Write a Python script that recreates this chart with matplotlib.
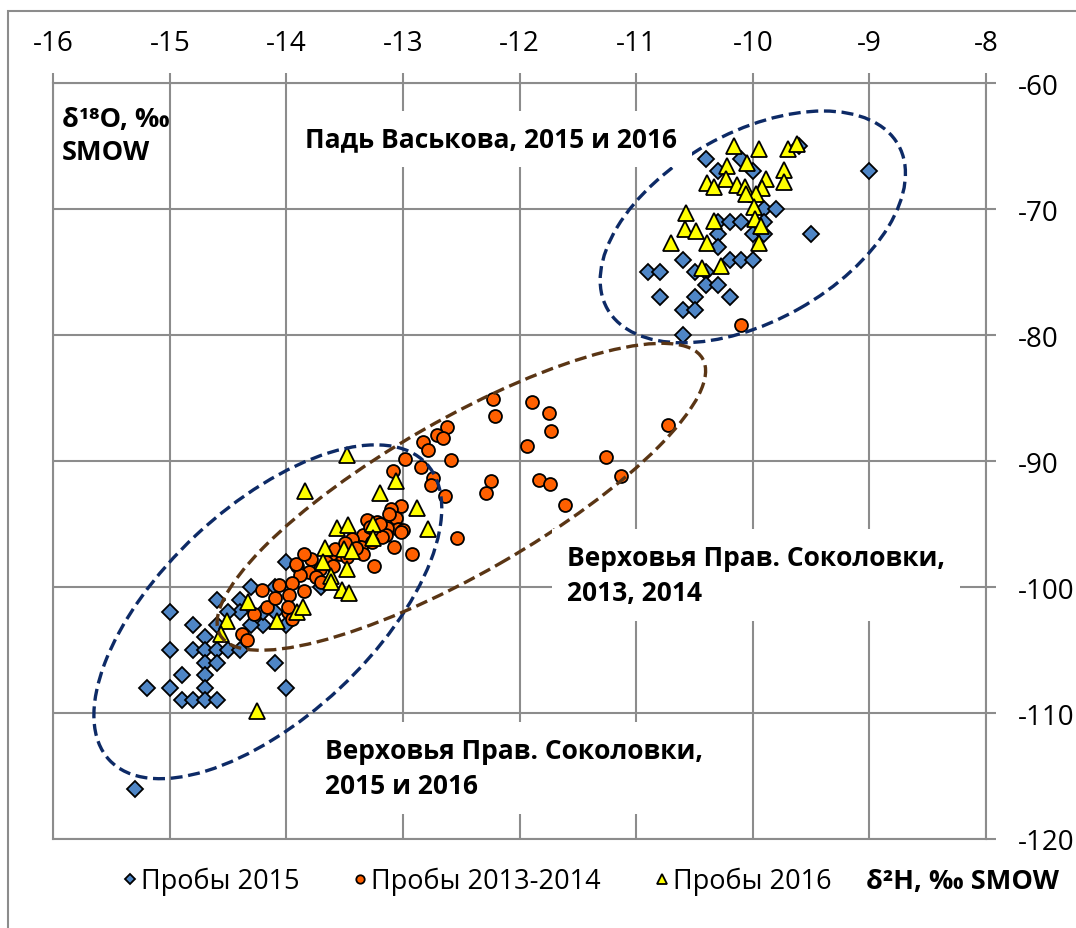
import matplotlib
matplotlib.use("Agg")
from matplotlib import pyplot as plt
from matplotlib.patches import Ellipse, Rectangle
from matplotlib.transforms import ScaledTranslation

plt.rcParams['font.family'] = ['Open Sans', 'DejaVu Sans']
plt.rcParams['axes.unicode_minus'] = False

# Пробы 2015 (diamonds)
x2015 = [-15.0, -14.8, -14.6, -14.4, -14.3, -14.4, -14.6, -14.7, -15.0, -14.8, -14.7, -14.6, -14.5, -14.4,
         -14.7, -14.6, -14.9, -14.7, -15.2, -15.0, -14.7, -14.9, -14.8, -14.7, -14.6, -14.1, -14.0, -15.3,
         -14.0, -14.1, -14.2, -14.0, -14.1, -14.5, -14.2, -14.3, -13.7,
         -10.4, -10.1, -10.3, -10.0, -9.0, -9.6, -9.9, -9.8, -10.3, -10.2, -10.1, -9.9, -10.3, -10.0, -9.9,
         -9.5, -10.3, -10.6, -10.2, -10.1, -10.0, -10.9, -10.8, -10.5, -10.4, -10.4, -10.3, -10.8, -10.5,
         -10.2, -10.6, -10.5, -10.6]
y2015 = [-102, -103, -101, -101, -100, -102, -103, -104, -105, -105, -105, -105, -105, -105,
         -106, -106, -107, -107, -108, -108, -108, -109, -109, -109, -109, -106, -108, -116,
         -98, -100, -103, -103, -102, -102, -102, -103, -100,
         -66, -66, -67, -67, -67, -65, -70, -70, -71, -71, -71, -71, -72, -72, -72,
         -72, -73, -74, -74, -74, -74, -75, -75, -75, -75, -76, -76, -77, -77,
         -77, -78, -78, -80]

# Пробы 2013-2014 (circles)
x1314 = [-12.23, -12.21, -11.89, -11.75, -11.73, -11.94, -10.73, -11.26, -11.13, -12.25, -12.29, -11.83,
         -11.74, -11.61, -12.54, -12.62, -12.71, -12.66, -12.83, -12.79, -12.98, -12.59, -12.85, -13.09,
         -12.74, -12.76, -12.64, -12.92, -10.10,
         -13.02, -13.10, -13.06, -13.31, -13.22, -13.04, -13.00, -13.14, -13.08, -13.25, -13.34, -13.36,
         -13.34, -13.44, -13.54, -13.62, -13.79, -13.71, -13.81, -13.91, -13.88, -13.95, -14.06, -14.21,
         -13.85, -13.98, -14.17, -14.28, -13.99, -13.95, -14.38, -14.34, -13.92, -13.99, -13.15, -13.02,
         -13.20, -13.28, -13.18, -13.12, -13.27, -13.40, -13.48, -13.58, -13.66, -13.75, -13.60, -13.50,
         -13.85, -14.10, -13.70]
y1314 = [-85.1, -86.4, -85.3, -86.2, -87.6, -88.8, -87.1, -89.7, -91.2, -91.6, -92.5, -91.5,
         -91.8, -93.5, -96.1, -87.3, -87.9, -88.2, -88.5, -89.1, -89.8, -89.9, -90.5, -90.8,
         -91.3, -91.9, -92.8, -97.4, -79.2,
         -93.6, -93.8, -94.5, -94.7, -94.8, -95.4, -95.5, -95.3, -96.8, -98.3, -95.9, -96.8,
         -97.4, -96.2, -97.4, -97.4, -97.8, -98.6, -98.8, -98.3, -99.0, -99.7, -99.8, -100.2,
         -100.3, -100.6, -101.6, -102.1, -102.0, -102.5, -103.7, -104.2, -98.2, -101.6, -95.9, -95.6,
         -95.0, -95.2, -96.0, -94.2, -96.4, -96.9, -97.6, -97.0, -98.0, -99.2, -98.3, -96.5,
         -97.4, -100.9, -99.6]

# Пробы 2016 (triangles)
x2016 = [-10.16, -9.95, -9.70, -9.62, -10.22, -10.05, -9.73, -9.73, -10.23, -10.39, -10.33, -10.14,
         -10.07, -9.89, -9.92, -9.97, -10.06, -9.99, -10.57, -10.58, -10.49, -10.33, -9.98, -9.93,
         -10.70, -10.39, -9.95, -10.44, -10.27,
         -13.48, -13.84, -13.20, -13.06, -12.88, -12.79, -13.57, -13.47, -13.26, -13.26, -13.51, -13.67,
         -13.44, -13.69, -13.62, -13.48, -13.52, -13.46, -14.33, -14.51, -13.91, -13.86, -14.08, -14.56,
         -14.25, -13.62]
y2016 = [-65.0, -65.2, -65.2, -64.8, -66.6, -66.3, -66.9, -67.8, -67.6, -67.9, -68.2, -68.1,
         -68.2, -67.6, -68.3, -68.8, -68.8, -69.8, -70.3, -71.6, -71.7, -70.9, -70.8, -71.3,
         -72.7, -72.7, -72.7, -74.7, -74.5,
         -89.5, -92.4, -92.5, -91.6, -93.7, -95.4, -95.3, -95.1, -95.0, -96.1, -97.0, -96.9,
         -97.1, -98.0, -99.1, -98.6, -100.2, -100.5, -101.2, -102.7, -102.0, -101.6, -102.7, -103.7,
         -109.8, -99.6]

xticks = [-16, -15, -14, -13, -12, -11, -10, -9, -8]
yticks = [-120, -110, -100, -90, -80, -70, -60]

W, H = 1076, 929
grid_c = "#8c8c8c"

fig = plt.figure(figsize=(W / 100, H / 100), dpi=100)
ax = fig.add_axes([53.3 / W, 1 - 840 / H, (986 - 53.3) / W, (840 - 84.3) / H])
ax.set_xlim(-16, -8)
ax.set_ylim(-120, -60)
ax.set_xticks(xticks)
ax.set_yticks(yticks)
ax.grid(True, color=grid_c, lw=1.5, zorder=0)
ax.set_axisbelow(True)
for s in ax.spines.values():
    s.set_color(grid_c)
    s.set_linewidth(1.5)
ax.tick_params(axis="x", top=True, bottom=False, labeltop=True, labelbottom=False,
               length=7, width=1.5, color=grid_c, pad=12, labelsize=20)
ax.tick_params(axis="y", right=True, left=False, labelright=True, labelleft=False,
               length=7, width=1.5, color=grid_c, pad=16, labelsize=20)

# series
ax.plot(x2015, y2015, ls="none", marker="D", ms=8.2, mfc="#4f86c6", mec="black", mew=1.3,
        zorder=3, label="Пробы 2015")
ax.plot(x1314, y1314, ls="none", marker="o", ms=9.3, mfc="#ff6000", mec="black", mew=1.3,
        zorder=4, label="Пробы 2013-2014")
ax.plot(x2016, y2016, ls="none", marker="^", ms=11.5, mfc="#ffff00", mec="black", mew=1.3,
        zorder=5, label="Пробы 2016")

# dashed ellipses (centre in data units, axes in pixels, angle in degrees)
def px_ellipse(cx, cy, a, b, ang, color):
    tr = fig.dpi_scale_trans + ScaledTranslation(cx, cy, ax.transData)
    e = Ellipse((0, 0), 2 * a / fig.dpi, 2 * b / fig.dpi, angle=ang, transform=tr,
                fill=False, ec=color, lw=2.4, ls=(0, (3.6, 1.7)), zorder=7, clip_on=False)
    ax.add_patch(e)

px_ellipse(-10.0, -71.4, 167, 94, 29.4, "#0d2a66")
px_ellipse(-14.16, -101.96, 217, 105, 43.1, "#0d2a66")
px_ellipse(-12.50, -92.83, 278, 77, 29.8, "#5a3514")

# text boxes
box = dict(boxstyle="square,pad=0.55", fc="white", ec="none")
def ftext(px, py, s, **kw):
    fig.text(px / W, 1 - py / H, s, **kw)

ftext(305, 140, "Падь Васькова, 2015 и 2016", fontsize=19, fontweight="bold",
      va="center", ha="left", bbox=box, zorder=2)
ftext(567, 576, "Верховья Прав. Соколовки,\n2013, 2014", fontsize=19, fontweight="bold",
      va="center", ha="left", linespacing=1.4, bbox=box, zorder=2)
ftext(325, 769, "Верховья Прав. Соколовки,\n2015 и 2016", fontsize=19, fontweight="bold",
      va="center", ha="left", linespacing=1.4, bbox=box, zorder=2)
ftext(62, 137, "δ¹⁸O, ‰\nSMOW", fontsize=19.5, fontweight="bold", va="center", ha="left",
      linespacing=1.35)
ftext(866, 882, "δ²H, ‰ SMOW", fontsize=19.5, fontweight="bold", va="center", ha="left")

fig.legend(loc="center left", bbox_to_anchor=(92 / W, 1 - 882 / H), ncol=3, frameon=False,
           fontsize=19.5, handletextpad=-0.1, columnspacing=1.75, handlelength=1.0, markerscale=0.65)

# chart area border
fig.add_artist(Rectangle((8 / W, -0.1), 1.2, 1.1 - 12 / H, transform=fig.transFigure,
                         fill=False, ec=grid_c, lw=1.5))

fig.savefig("out.png", dpi=100)
